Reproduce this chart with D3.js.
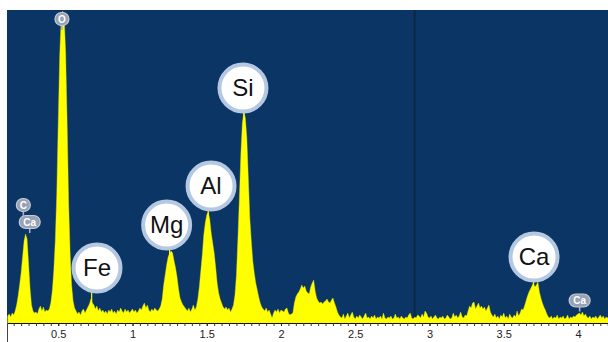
<!DOCTYPE html>
<html><head><meta charset="utf-8">
<script src="https://cdn.jsdelivr.net/npm/d3@7"></script>
<style>html,body{margin:0;padding:0;background:#fff;}svg{display:block;}</style>
</head><body>
<svg id="chart" width="608" height="342"></svg>
<script>
// ---- DATA ----
// Spectrum channels: first channel energy (keV) and channel width (keV)
const channelStart = 0.16;
const channelWidth = 0.01;
// Counts per channel (arbitrary units), 0.16 .. 4.21 keV
const counts016 = [7, 9, 6, 10];
const counts020 = [8, 12, 18, 27, 38, 50, 66, 82, 89, 84];
const counts030 = [60, 35, 18, 12, 10, 11, 9, 14, 17, 12];
const counts040 = [16, 11, 13, 12, 14, 20, 32, 52, 82, 128];
const counts050 = [200, 268, 305, 312, 305, 270, 200, 120, 70, 38];
const counts060 = [22, 15, 12, 9, 11, 8, 12, 14, 10, 13];
const counts070 = [16, 19, 24, 20, 18, 14, 17, 12, 15, 11];
const counts080 = [13, 10, 12, 9, 13, 11, 14, 10, 12, 9];
const counts090 = [13, 11, 15, 12, 10, 14, 11, 13, 10, 12];
const counts100 = [14, 11, 13, 10, 12, 15, 13, 17, 20, 15];
const counts110 = [18, 13, 11, 14, 12, 15, 13, 12, 14, 17];
const counts120 = [24, 38, 48, 58, 66, 70, 72, 70, 62, 55];
const counts130 = [46, 34, 25, 21, 18, 16, 14, 12, 15, 11];
const counts140 = [14, 18, 13, 16, 24, 36, 52, 68, 88, 100];
const counts150 = [108, 111, 104, 90, 80, 70, 56, 40, 30, 24];
const counts160 = [20, 16, 14, 16, 13, 15, 11, 14, 18, 28];
const counts170 = [48, 85, 125, 170, 200, 211, 205, 185, 145, 105];
const counts180 = [82, 62, 50, 40, 33, 26, 20, 16, 14, 12];
const counts190 = [15, 11, 13, 9, 5, 10, 13, 11, 14, 10];
const counts200 = [13, 12, 11, 14, 15, 10, 8, 9, 10, 20];
const counts210 = [26, 29, 31, 34, 38, 35, 37, 32, 30, 29];
const counts220 = [36, 40, 43, 32, 25, 22, 20, 21, 19, 21];
const counts230 = [22, 24, 21, 20, 23, 25, 20, 16, 11, 8];
const counts240 = [6, 5, 9, 4, 7, 10, 5, 8, 11, 6];
const counts250 = [4, 7, 5, 8, 6, 4, 7, 10, 5, 6];
const counts260 = [4, 7, 5, 8, 4, 6, 5, 7, 4, 10];
const counts270 = [5, 4, 6, 5, 7, 4, 5, 9, 5, 6];
const counts280 = [4, 7, 5, 4, 6, 5, 8, 10, 5, 4];
const counts290 = [6, 5, 8, 7, 5, 9, 6, 12, 10, 6];
const counts300 = [5, 7, 4, 6, 8, 5, 4, 6, 5, 7];
const counts310 = [4, 5, 8, 6, 4, 5, 10, 6, 8, 5];
const counts320 = [7, 11, 6, 5, 8, 7, 12, 17, 15, 20];
const counts330 = [21, 14, 17, 20, 15, 17, 14, 16, 12, 15];
const counts340 = [18, 11, 8, 6, 9, 5, 7, 4, 8, 6];
const counts350 = [10, 5, 7, 4, 9, 6, 5, 8, 6, 12];
const counts360 = [7, 10, 14, 13, 17, 22, 27, 31, 34, 37];
const counts370 = [40, 36, 38, 41, 31, 25, 20, 16, 13, 9];
const counts380 = [6, 5, 7, 4, 6, 5, 8, 4, 6, 5];
const counts390 = [7, 4, 5, 8, 4, 6, 5, 7, 6, 8];
const counts400 = [9, 10, 8, 11, 7, 9, 6, 5, 7, 4];
const counts410 = [6, 5, 7, 4, 6, 8, 5, 7, 4, 6];
const counts420 = [5, 7];

// Axis
const energyDomain = [0.155, 4.202];
const countDomain = [0, 313];
const tickLabels = [0.5, 1, 1.5, 2, 2.5, 3, 3.5, 4];
const minorStep = 0.05;
const markerEnergies = [2.9];

// Element labels: big bubbles (name, energy, count level of bubble centre, stem energy)
const bigLabels = [
  {name: "Fe", e: 0.761, c: 55, stemE: 0.725},
  {name: "Mg", e: 1.230, c: 98, stemE: 1.250},
  {name: "Al", e: 1.529, c: 137, stemE: 1.510},
  {name: "Si", e: 1.744, c: 235, stemE: 1.750},
  {name: "Ca", e: 3.704, c: 66, stemE: 3.700}
];
// Small grey markers
const smallLabels = [
  {name: "O", e: 0.525, c: 304},
  {name: "Ca", e: 0.308, c: 101},
  {name: "C", e: 0.265, c: 118},
  {name: "Ca", e: 4.011, c: 22.5}
];

// ---- BUILD ----
const counts = [].concat(counts016, counts020, counts030, counts040, counts050, counts060,
  counts070, counts080, counts090, counts100, counts110, counts120, counts130, counts140,
  counts150, counts160, counts170, counts180, counts190, counts200, counts210, counts220,
  counts230, counts240, counts250, counts260, counts270, counts280, counts290, counts300,
  counts310, counts320, counts330, counts340, counts350, counts360, counts370, counts380,
  counts390, counts400, counts410, counts420);
const spectrum = counts.map((c, i) => ({e: +(channelStart + i * channelWidth).toFixed(3), c}));

const W = 608, H = 342;
const plot = {left: 7, right: 608, top: 10, bottom: 323};
const x = d3.scaleLinear().domain(energyDomain).range([plot.left, plot.right]);
const y = d3.scaleLinear().domain(countDomain).range([plot.bottom, plot.top]);

const svg = d3.select("#chart");
const FONT = "'Liberation Sans', Arial, Helvetica, sans-serif";

svg.append("defs").append("clipPath").attr("id", "clip")
  .append("rect").attr("x", plot.left).attr("y", plot.top)
  .attr("width", plot.right - plot.left).attr("height", plot.bottom - plot.top);

// background
svg.append("rect").attr("x", plot.left).attr("y", plot.top)
  .attr("width", plot.right - plot.left).attr("height", plot.bottom - plot.top)
  .attr("fill", "#0a3565");

const g = svg.append("g").attr("clip-path", "url(#clip)");

// marker line
g.selectAll("line.marker").data(markerEnergies).join("line")
  .attr("class", "marker")
  .attr("x1", d => x(d)).attr("x2", d => x(d))
  .attr("y1", plot.top).attr("y2", plot.bottom)
  .attr("stroke", "#0d2746").attr("stroke-width", 2);

// spectrum
const area = d3.area().x(d => x(d.e)).y0(y(0)).y1(d => y(d.c));
g.append("path").datum(spectrum).attr("d", area)
  .attr("fill", "#ffff00").attr("stroke", "#e6e600").attr("stroke-width", 0.4);

// axis
const minorTicks = d3.range(Math.ceil(energyDomain[0] / minorStep), Math.floor(energyDomain[1] / minorStep) + 1)
  .map(k => +(k * minorStep).toFixed(2));
const axMinor = svg.append("g").attr("transform", `translate(0,${plot.bottom})`)
  .call(d3.axisBottom(x).tickValues(minorTicks).tickSize(3).tickSizeOuter(0).tickFormat(""));
axMinor.select(".domain").attr("stroke", "#111");
axMinor.selectAll(".tick line").attr("stroke", "#333");

const axMajor = svg.append("g").attr("transform", `translate(0,${plot.bottom})`)
  .call(d3.axisBottom(x).tickValues(tickLabels).tickSize(3).tickSizeOuter(0).tickFormat(d3.format("~g")));
axMajor.select(".domain").remove();
axMajor.selectAll(".tick line").attr("stroke", "#222");
axMajor.selectAll(".tick text").attr("y", 15).attr("dy", "0")
  .attr("font-family", FONT).attr("font-size", 11).attr("fill", "#222");

svg.append("line").attr("x1", plot.left + 0.5).attr("x2", plot.left + 0.5)
  .attr("y1", plot.bottom).attr("y2", H).attr("stroke", "#444").attr("stroke-width", 1);

// small grey labels
const sl = svg.append("g").selectAll("g").data(smallLabels).join("g")
  .attr("transform", d => `translate(${x(d.e)},${y(d.c)})`);
sl.append("line").attr("x1", 0).attr("x2", 0).attr("y1", 5).attr("y2", 11)
  .attr("stroke", "#a7b0c0").attr("stroke-width", 1.6);
sl.append("rect")
  .attr("x", d => -(d.name.length > 1 ? 10.5 : 7))
  .attr("y", -6.5)
  .attr("width", d => d.name.length > 1 ? 21 : 14)
  .attr("height", 13).attr("rx", 6.5)
  .attr("fill", "#97a2b5").attr("stroke", "#c3cad6").attr("stroke-width", 1.2);
sl.append("text").text(d => d.name)
  .attr("text-anchor", "middle").attr("y", 3.5)
  .attr("font-family", FONT).attr("font-size", 10).attr("font-weight", "bold")
  .attr("fill", "#ffffff");

// big bubbles
const R = 23.5;
const bl = svg.append("g").selectAll("g").data(bigLabels).join("g");
bl.append("line")
  .attr("x1", d => x(d.stemE)).attr("x2", d => x(d.stemE))
  .attr("y1", d => y(d.c) + R).attr("y2", plot.bottom)
  .attr("stroke", "#ffff00").attr("stroke-width", 1.2);
bl.append("circle")
  .attr("cx", d => x(d.e)).attr("cy", d => y(d.c)).attr("r", R)
  .attr("fill", "#ffffff").attr("stroke", "#b5c8e2").attr("stroke-width", 4);
bl.append("text").text(d => d.name)
  .attr("x", d => x(d.e)).attr("y", d => y(d.c) + 8.2)
  .attr("text-anchor", "middle")
  .attr("font-family", FONT).attr("font-size", 24).attr("fill", "#111");
</script>
</body></html>
